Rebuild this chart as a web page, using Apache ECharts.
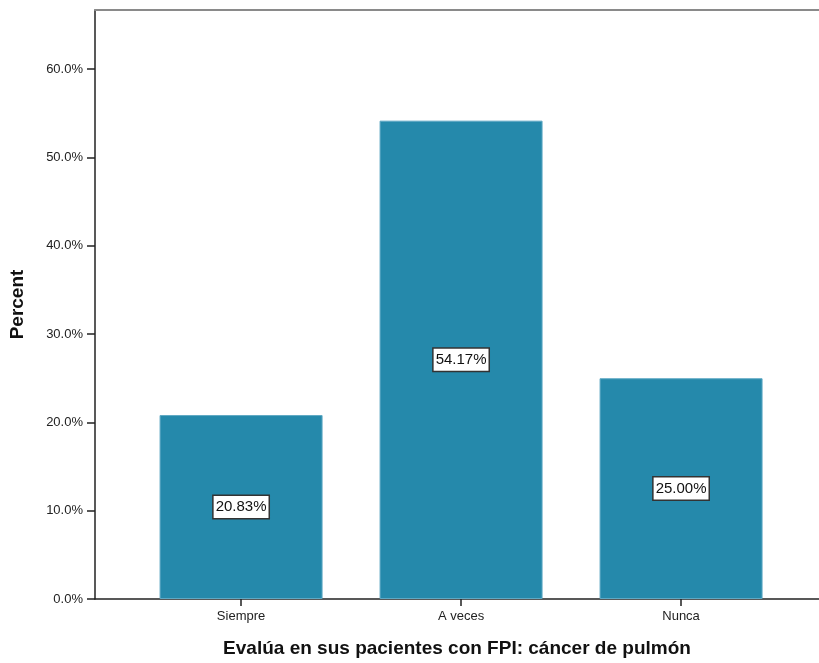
<!DOCTYPE html>
<html>
<head>
<meta charset="utf-8">
<script src="https://cdn.jsdelivr.net/npm/echarts@6/dist/echarts.min.js"></script>
<style>html,body{margin:0;padding:0;background:#fff}#c{width:819px;height:663px}</style>
</head>
<body>
<div id="c"></div>
<script>
const categories = ['Siempre', 'A veces', 'Nunca'];
const percents = [20.83, 54.17, 25.00];
const yTicks = [0, 10, 20, 30, 40, 50, 60];
const catPositions = [0, 1, 2];

const FONT = 'Arial, "Liberation Sans", sans-serif';
const chart = echarts.init(document.getElementById('c'));
chart.setOption({
  animation: false,
  backgroundColor: '#ffffff',
  grid: { left: 95, right: 0, top: 10, bottom: 63 },
  xAxis: [{
    type: 'value',
    min: -0.664, max: 2.627,
    splitLine: { show: false },
    axisLine: { show: true, onZero: false, lineStyle: { color: '#222', width: 1.5 } },
    axisTick: { show: true, length: 7, customValues: catPositions, lineStyle: { color: '#222', width: 1.5 } },
    axisLabel: {
      customValues: catPositions,
      formatter: v => categories[Math.round(v)] || '',
      color: '#222', fontSize: 13, letterSpacing: 1.0, fontFamily: FONT, margin: 11
    },
    name: 'Evalúa en sus pacientes con FPI: cáncer de pulmón',
    nameLocation: 'middle', nameGap: 40,
    nameTextStyle: { color: '#111', fontSize: 19, fontWeight: 'bold', letterSpacing: 1.2, fontFamily: FONT }
  }, {
    type: 'value',
    position: 'top',
    min: -0.664, max: 2.627,
    splitLine: { show: false },
    axisLine: { show: true, onZero: false, lineStyle: { color: '#8a8a8a', width: 2 } },
    axisTick: { show: false },
    axisLabel: { show: false }
  }],
  yAxis: {
    type: 'value',
    min: 0, max: 66.7,
    splitLine: { show: false },
    axisLine: { show: true, onZero: false, lineStyle: { color: '#222', width: 1.5 } },
    axisTick: { show: true, length: 8, customValues: yTicks, lineStyle: { color: '#222', width: 1.5 } },
    axisLabel: {
      customValues: yTicks,
      formatter: v => v.toFixed(1) + '%',
      color: '#222', fontSize: 13, letterSpacing: 1.2, fontFamily: FONT, margin: 12
    },
    name: 'Percent',
    nameLocation: 'middle', nameGap: 68, nameRotate: 90,
    nameTextStyle: { color: '#111', fontSize: 19, fontWeight: 'bold', letterSpacing: 1.2, fontFamily: FONT }
  },
  series: [{
    type: 'bar',
    xAxisIndex: 0,
    data: catPositions.map((x, i) => [x, percents[i]]),
    barWidth: 163,
    itemStyle: { color: '#2589ab', borderColor: '#5fa9c4', borderWidth: 1 },
    label: {
      show: true, position: 'inside',
      formatter: p => p.value[1].toFixed(2) + '%',
      color: '#111', fontSize: 15, fontFamily: FONT,
      backgroundColor: '#ffffff', borderColor: '#333', borderWidth: 1.5, padding: [4, 2, 3, 2]
    }
  }]
});
</script>
</body>
</html>
